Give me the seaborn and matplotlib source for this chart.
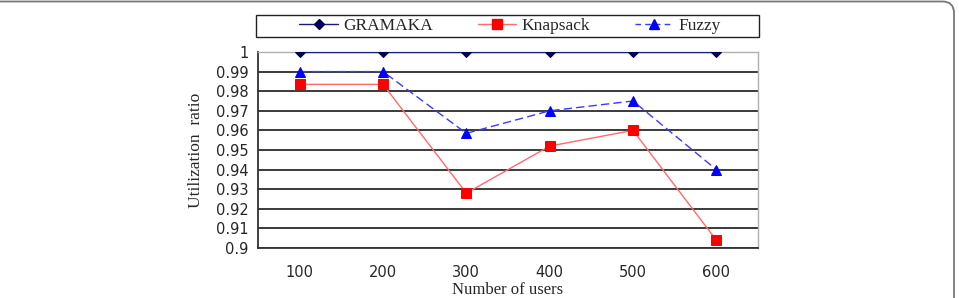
import matplotlib
matplotlib.use("Agg")
import matplotlib.pyplot as plt
import seaborn as sns
import numpy as np
from matplotlib.patches import FancyBboxPatch, Rectangle
from matplotlib.lines import Line2D

users = ["100", "200", "300", "400", "500", "600"]
gramaka = [1.0, 1.0, 1.0, 1.0, 1.0, 1.0]
knapsack = [0.9835, 0.9835, 0.928, 0.952, 0.960, 0.904]
fuzzy = [0.990, 0.990, 0.9585, 0.970, 0.975, 0.940]
yticks = [0.9, 0.91, 0.92, 0.93, 0.94, 0.95, 0.96, 0.97, 0.98, 0.99, 1.0]
ytick_labels = ["0.9", "0.91", "0.92", "0.93", "0.94", "0.95", "0.96", "0.97", "0.98", "0.99", "1"]

sns.set_style("white")
plt.rcParams['font.family'] = ['DejaVu Sans']

W, H = 959, 298
fig = plt.figure(figsize=(W/100, H/100), dpi=100)
ax = fig.add_axes([258/W, 1-248/H, 500/W, 196/H])

pos = np.arange(len(users))
serif = ['Liberation Serif', 'DejaVu Serif']

for y in yticks:
    ax.axhline(y, color='#3a3a3a' if y < 1 else '#b0b0b0', lw=1.4, zorder=0)

sns.lineplot(x=pos, y=gramaka, ax=ax, color='#1a1a80', lw=1.0, marker='D',
             markersize=5, markerfacecolor='#00005a', markeredgecolor='#00005a', zorder=3)
sns.lineplot(x=pos, y=knapsack, ax=ax, color='#ff6a6a', lw=1.0, marker='s',
             markersize=6.5, markerfacecolor='#ff0000', markeredgecolor='#ff0000', zorder=3)
sns.lineplot(x=pos, y=fuzzy, ax=ax, color='#3a3aff', lw=1.0, linestyle=(0, (6, 3)),
             marker='^', markersize=7, markerfacecolor='#0000ff', markeredgecolor='#0000ff', zorder=3)

ax.set_xlim(-0.5, 5.5)
ax.set_ylim(0.9, 1.0)
ax.set_xticks(pos)
ax.set_xticklabels(users, fontsize=10.5)
ax.set_xticks(np.arange(0.5, 5.0, 1.0), minor=True)
ax.tick_params(axis='x', which='major', length=0, pad=12)
ax.tick_params(axis='x', which='minor', length=5, direction='in', color='#333333', width=1)
ax.set_yticks(yticks)
ax.set_yticklabels(ytick_labels, fontsize=10.5)
ax.tick_params(axis='y', length=0, pad=7)

for s in ['left', 'bottom']:
    ax.spines[s].set_color('#333333')
    ax.spines[s].set_linewidth(1.3)
for s in ['top', 'right']:
    ax.spines[s].set_color('#b0b0b0')
    ax.spines[s].set_linewidth(1.0)

ax.set_xlabel("Number of users", family=serif, fontsize=12, labelpad=2)
ax.set_ylabel("Utilization  ratio", family=serif, fontsize=12.5, labelpad=8)

handles = [
    Line2D([], [], color='#1a1a80', lw=1.0, marker='D', markersize=5,
           markerfacecolor='#00005a', markeredgecolor='#00005a'),
    Line2D([], [], color='#ff6a6a', lw=1.0, marker='s', markersize=6.5,
           markerfacecolor='#ff0000', markeredgecolor='#ff0000'),
    Line2D([], [], color='#3a3aff', lw=1.0, linestyle=(0, (4, 3)), marker='^', markersize=7,
           markerfacecolor='#0000ff', markeredgecolor='#0000ff'),
]
leg = fig.legend(handles, ["GRAMAKA", "Knapsack", "Fuzzy"], ncol=3,
                 loc='center', bbox_to_anchor=(510/W, 1-26/H),
                 frameon=False, prop={'family': serif, 'size': 12.5},
                 handlelength=2.2, columnspacing=2.6, handletextpad=0.3,
                 borderpad=0.1)
fig.patches.append(Rectangle((256/W, 1-37/H), 503/W, 22/H, transform=fig.transFigure,
                             fill=False, edgecolor='#222222', lw=1.0))

border = FancyBboxPatch((-20/W, -20/H), (954+20)/W, (296.5+20)/H,
                        boxstyle="round,pad=0,rounding_size=0.012",
                        transform=fig.transFigure, fill=False,
                        edgecolor='#777777', lw=1.3, mutation_aspect=W/H)
fig.patches.append(border)

fig.savefig("out.png", dpi=100)
